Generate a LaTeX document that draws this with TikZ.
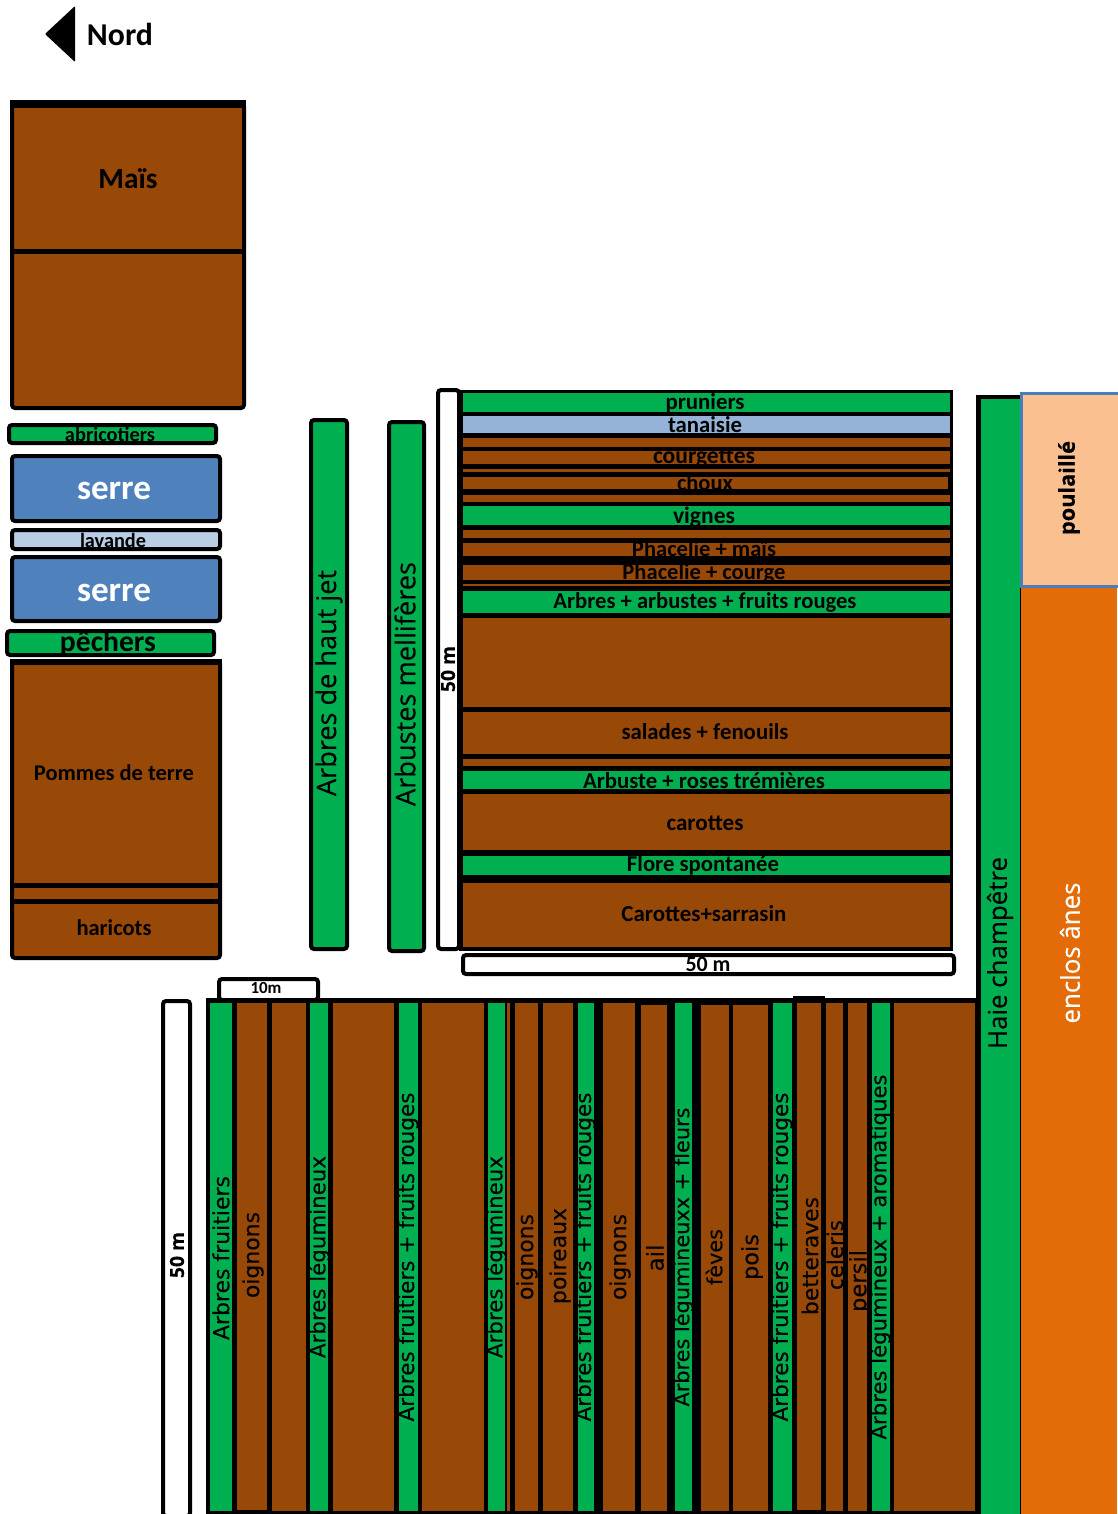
\documentclass[tikz,border=0pt]{standalone}
\usepackage{fontspec}
\usepackage{graphicx}
\setmainfont{Carlito}
\newfontfamily\strip[FakeBold=0.25]{Open Sans}
\newfontfamily\stripw[FakeBold=0.25]{DejaVu Sans}
\definecolor{brun}{HTML}{984807}
\definecolor{vert}{HTML}{00B050}
\definecolor{bleu}{HTML}{4F81BD}
\definecolor{tanais}{HTML}{95B3D7}
\definecolor{lavand}{HTML}{B9CDE5}
\definecolor{orangeane}{HTML}{E36C09}
\definecolor{poul}{HTML}{FAC090}
\definecolor{poulbord}{HTML}{4A7EBB}
\newcommand\zone[5]{\fill[#5] (#1,#2) rectangle (#3,#4);}
\newcommand\bx[5]{\draw[plotbox,fill=#5] (#1+2,#2+2) rectangle (#3-2,#4-2);}
\newcommand\hl[5]{\node[hlab] (#1) at (#2,#3) {\resizebox{#4pt}{!}{\bfseries #5}};}
\newcommand\vl[5]{\node[vlab] (#1) at (#2,#3) {\resizebox{#4pt}{!}{\strip #5}};}
\newcommand\vw[5]{\node[vlab] (#1) at (#2,#3) {\resizebox{#4pt}{!}{\stripw #5}};}
\tikzset{
  plotbox/.style={draw=black,line width=4pt,rounded corners=3pt},
  hlab/.style={inner sep=0pt,text=black},
  vlab/.style={inner sep=0pt,text=black,rotate=90},
}
\begin{document}
\begin{tikzpicture}[x=1pt,y=-1pt]
\useasboundingbox (0,0) rectangle (1117,1514);
% north arrow
\fill[black,rounded corners=1pt] (45,34) -- (75,6) -- (75,62) -- cycle;
\hl{nord}{120}{34}{66}{Nord}
% Mais
\bx{10}{102}{246}{410}{brun}
\zone{10}{100}{246}{108}{black}
\zone{13}{249}{243}{254}{black}
\hl{mais}{128}{179}{59}{Maïs}
% left column
\bx{7}{423}{218}{445}{vert}
\hl{abric}{110}{434}{90}{abricotiers}
\bx{10}{454}{222}{523}{bleu}
\node[hlab,text=white] (serre1) at (114,491) {\resizebox{74pt}{!}{\bfseries serre}};
\bx{10}{528}{222}{551}{lavand}
\hl{lav}{113}{540}{66}{lavande}
\bx{10}{555}{222}{623}{bleu}
\node[hlab,text=white] (serre2) at (114,593) {\resizebox{74pt}{!}{\bfseries serre}};
\bx{5}{629}{216}{657}{vert}
\hl{pech}{108}{643}{96}{pêchers}
\bx{10}{659}{222}{960}{brun}
\zone{10}{659}{222}{665}{black}
\zone{13}{883}{219}{888}{black}
\zone{13}{899}{219}{904}{black}
\hl{pdt}{114}{773}{160}{Pommes de terre}
\hl{haric}{114}{928}{75}{haricots}
% tall hedges
\bx{309}{418}{349}{951}{vert}
\vl{haut}{329}{683}{226}{Arbres de haut jet}
\bx{387}{420}{426}{953}{vert}
\vl{mell}{405}{684}{244}{Arbustes mellifères}
% upper block
\bx{436}{388}{461}{951}{white}
\vl{dim1}{448}{669}{46}{\bfseries 50 m}
\zone{459}{390}{953}{951}{black}
\zone{463}{393}{950}{412}{vert}
\zone{463}{416}{950}{433}{tanais}
\zone{463}{438}{950}{447}{brun}
\zone{463}{451}{950}{464}{brun}
\zone{463}{469}{950}{472}{brun}
\zone{463}{477}{948}{489}{brun}
\zone{463}{495}{950}{502}{brun}
\zone{463}{506}{950}{525}{vert}
\zone{463}{530}{950}{538}{brun}
\zone{463}{543}{950}{556}{brun}
\zone{463}{565}{950}{580}{brun}
\zone{463}{584}{950}{586}{brun}
\zone{463}{591}{950}{613}{vert}
\zone{463}{618}{950}{707}{brun}
\zone{463}{712}{950}{754}{brun}
\zone{463}{759}{950}{766}{brun}
\zone{463}{771}{950}{789}{vert}
\zone{463}{794}{950}{850}{brun}
\zone{463}{856}{950}{875}{vert}
\zone{463}{883}{950}{947}{brun}
\hl{prun}{705}{403}{79}{pruniers}
\hl{tana}{705}{425}{74}{tanaisie}
\hl{cour}{704}{458}{102}{courgettes}
\hl{chou}{705}{483}{56}{choux}
\hl{vign}{704}{517}{62}{vignes}
\hl{phm}{704}{549}{144}{Phacelie + maïs}
\hl{phc}{704}{573}{163}{Phacelie + courge}
\hl{arfr}{705}{602}{303}{Arbres + arbustes + fruits rouges}
\hl{sala}{705}{732}{167}{salades + fenouils}
\hl{arro}{704}{781}{242}{Arbuste + roses trémières}
\hl{caro}{705}{823}{77}{carottes}
\hl{flor}{703}{865}{152}{Flore spontanée}
\hl{casa}{704}{914}{165}{Carottes+sarrasin}
\bx{461}{953}{956}{976}{white}
\hl{dim2}{708}{964}{45}{50 m}
% lower block
\bx{217}{977}{320}{1002}{white}
\hl{dim3}{266}{988}{31}{10m}
\bx{161}{999}{192}{1518}{white}
\vl{dim4}{177}{1255}{46}{\bfseries 50 m}
\zone{206}{998}{977}{1514}{black}
\zone{793}{996}{825}{1003}{black}
\zone{210}{1003}{232}{1511}{vert}
\zone{237}{1003}{267}{1510}{brun}
\zone{272}{1003}{306}{1511}{brun}
\zone{310}{1003}{328}{1511}{vert}
\zone{333}{1003}{394}{1511}{brun}
\zone{399}{1003}{418}{1511}{vert}
\zone{422}{1003}{484}{1511}{brun}
\zone{488}{1003}{505}{1511}{vert}
\zone{507}{1003}{510}{1511}{brun}
\zone{515}{1003}{538}{1511}{brun}
\zone{543}{1003}{573}{1511}{brun}
\zone{578}{1003}{594}{1511}{vert}
\zone{603}{1003}{635}{1511}{brun}
\zone{641}{1005}{667}{1511}{brun}
\zone{675}{1003}{692}{1511}{vert}
\zone{701}{1005}{729}{1511}{brun}
\zone{733}{1005}{768}{1511}{brun}
\zone{773}{1003}{792}{1511}{vert}
\zone{797}{1003}{821}{1510}{brun}
\zone{826}{1003}{843}{1511}{brun}
\zone{848}{1003}{867}{1511}{brun}
\zone{872}{1003}{890}{1511}{vert}
\zone{894}{1003}{975}{1511}{brun}
\vw{s1}{221}{1258}{164}{Arbres fruitiers}
\vw{s2}{253}{1255}{86}{oignons}
\vw{s3}{319}{1257}{202}{Arbres légumineux}
\vw{s4}{408}{1257}{329}{Arbres  fruitiers + fruits rouges}
\vw{s5}{496}{1257}{202}{Arbres légumineux}
\vw{s6}{527}{1257}{86}{oignons}
\vw{s7}{560}{1256}{96}{poireaux}
\vw{s8}{585}{1257}{329}{Arbres  fruitiers + fruits rouges}
\vw{s9}{620}{1257}{86}{oignons}
\vw{s10}{655}{1258}{27}{ail}
\vw{s11}{683}{1257}{299}{Arbres légumineuxx + fleurs}
\vw{s12}{714}{1257}{56}{fèves}
\vw{s13}{752}{1257}{46}{pois}
\vw{s14}{782}{1257}{329}{Arbres  fruitiers + fruits rouges}
\vw{s15}{810}{1256}{118}{betteraves}
\vw{s16}{835}{1255}{70}{celeris}
\vw{s17}{860}{1281}{62}{persil}
\vw{s18}{880}{1257}{365}{Arbres légumineux + aromatiques}
% right side
\zone{976}{395}{1022}{1514}{black}
\zone{981}{399}{1020}{1514}{vert}
\vl{haie}{1000}{953}{192}{Haie champêtre}
\zone{1021}{587}{1117}{1514}{orangeane}
\draw[draw=poulbord,line width=3pt,fill=poul] (1021,393) rectangle (1119,586);
\node[vlab] (poula) at (1069,488) {\resizebox{94pt}{!}{\strip\bfseries poulaillé}};
\node[vlab,text=white] (enclos) at (1070,953) {\resizebox{141pt}{!}{\strip enclos ânes}};
\end{tikzpicture}
\end{document}
